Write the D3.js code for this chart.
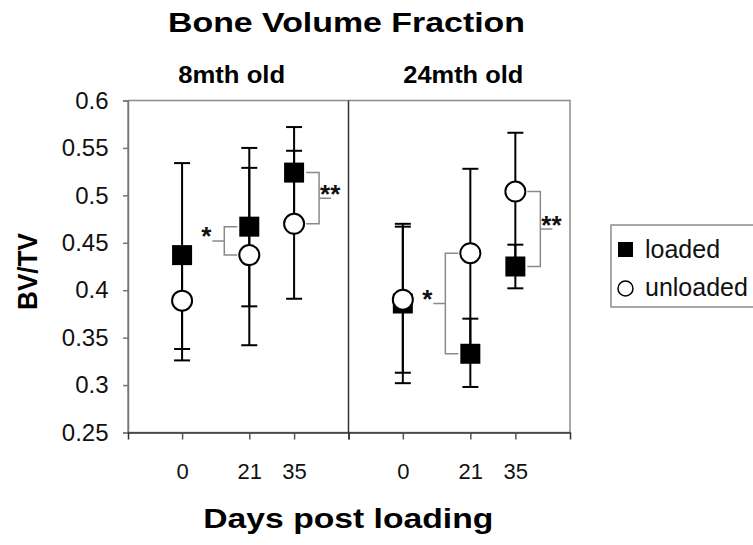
<!DOCTYPE html>
<html>
<head>
<meta charset="utf-8">
<script src="https://cdn.jsdelivr.net/npm/d3@7"></script>
<style>
  html, body { margin: 0; padding: 0; background: #fff; }
  svg { display: block; font-family: "Liberation Sans", Arial, sans-serif; }
</style>
</head>
<body>
<svg id="chart" width="753" height="545"></svg>
<script>
// Bone volume fraction (BV/TV) of loaded and unloaded limbs, two age groups
const ageGroups = ["8mth old", "24mth old"];
const days = [0, 21, 35];
const yTicks = [0.25, 0.3, 0.35, 0.4, 0.45, 0.5, 0.55, 0.6];

// one row per age group, one value per day
const loadedMean   = [[0.437, 0.467, 0.524], [0.386, 0.333, 0.425]];
const loadedLow    = [[0.338, 0.383, 0.476], [0.302, 0.298, 0.402]];
const loadedHigh   = [[0.534, 0.550, 0.572], [0.470, 0.370, 0.448]];
const unloadedMean = [[0.389, 0.437, 0.470], [0.390, 0.439, 0.504]];
const unloadedLow  = [[0.326, 0.342, 0.391], [0.313, 0.340, 0.432]];
const unloadedHigh = [[0.442, 0.529, 0.547], [0.467, 0.528, 0.566]];

// significance between loaded and unloaded
const sigGroup = [0, 0, 1, 1];
const sigDay   = [21, 35, 21, 35];
const sigLabel = ["*", "**", "*", "**"];
const sigSide  = [-1, 1, -1, 1];

const svg = d3.select("#chart");

const plotTop = 100.5, plotBottom = 432.5;
const panelEdges = [128, 348.5, 570];

const y = d3.scaleLinear().domain([0.25, 0.6]).range([plotBottom, plotTop]);
const xScales = ageGroups.map((g, i) =>
  d3.scaleLinear().domain([-16.9, 52]).range([panelEdges[i], panelEdges[i + 1]]));

// frame
svg.append("rect")
  .attr("x", panelEdges[0]).attr("y", plotTop)
  .attr("width", panelEdges[2] - panelEdges[0]).attr("height", plotBottom - plotTop)
  .attr("fill", "none").attr("stroke", "#8c8c8c").attr("stroke-width", 1.5);
svg.append("line")
  .attr("x1", panelEdges[1]).attr("x2", panelEdges[1])
  .attr("y1", plotTop).attr("y2", plotBottom)
  .attr("stroke", "#333").attr("stroke-width", 1.5);

// y axis
const yAxis = svg.append("g")
  .attr("transform", `translate(${panelEdges[0]},0)`)
  .call(d3.axisLeft(y).tickValues(yTicks).tickFormat(d => String(d))
    .tickSize(5).tickPadding(14.5));
yAxis.select(".domain").attr("stroke", "#777").attr("stroke-width", 1.5);
yAxis.selectAll(".tick line").attr("stroke", "#777").attr("stroke-width", 1.5);
yAxis.selectAll("text").attr("font-size", 24).attr("fill", "#111")
  .attr("font-family", "Liberation Sans, Arial, sans-serif");

// x axes
xScales.forEach((x, i) => {
  const g = svg.append("g")
    .attr("transform", `translate(0,${plotBottom})`)
    .call(d3.axisBottom(x).tickValues(days).tickSize(7).tickPadding(24));
  g.select(".domain").attr("stroke", "#333").attr("stroke-width", 1.5);
  g.selectAll(".tick line").attr("stroke", "#555").attr("stroke-width", 1.5);
  g.selectAll("text").attr("font-size", 22).attr("fill", "#111")
    .attr("font-family", "Liberation Sans, Arial, sans-serif");
});

// points per group
function seriesRows(mean, low, high) {
  const rows = [];
  ageGroups.forEach((g, gi) => days.forEach((d, di) => rows.push({
    gi, day: d, mean: mean[gi][di], low: low[gi][di], high: high[gi][di]
  })));
  return rows;
}
const loadedRows = seriesRows(loadedMean, loadedLow, loadedHigh);
const unloadedRows = seriesRows(unloadedMean, unloadedLow, unloadedHigh);

// error bars
const capHalf = 8;
function drawErrors(rows) {
  const g = svg.append("g").attr("stroke", "#000").attr("stroke-width", 2);
  rows.forEach(r => {
    const cx = xScales[r.gi](r.day);
    g.append("line").attr("x1", cx).attr("x2", cx)
      .attr("y1", y(r.low)).attr("y2", y(r.high));
    [r.low, r.high].forEach(v => g.append("line")
      .attr("x1", cx - capHalf).attr("x2", cx + capHalf)
      .attr("y1", y(v)).attr("y2", y(v)));
  });
}
drawErrors(unloadedRows);
drawErrors(loadedRows);

// markers
const sq = 20;
svg.append("g").selectAll("rect").data(loadedRows).join("rect")
  .attr("x", d => xScales[d.gi](d.day) - sq / 2)
  .attr("y", d => y(d.mean) - sq / 2)
  .attr("width", sq).attr("height", sq)
  .attr("fill", "#000");
svg.append("g").selectAll("circle").data(unloadedRows).join("circle")
  .attr("cx", d => xScales[d.gi](d.day))
  .attr("cy", d => y(d.mean))
  .attr("r", 10)
  .attr("fill", "#fff").attr("stroke", "#000").attr("stroke-width", 2);

// significance brackets
const brackets = svg.append("g");
sigGroup.forEach((gi, k) => {
  const di = days.indexOf(sigDay[k]);
  const cx = xScales[gi](sigDay[k]);
  const side = sigSide[k];
  const y1 = y(loadedMean[gi][di]);
  const y2 = y(unloadedMean[gi][di]);
  const xv = cx + side * 25;
  const xa = cx + side * 12;
  const xm = xv + side * 12;
  const ym = (y1 + y2) / 2;
  const path = d3.path();
  path.moveTo(xa, y1); path.lineTo(xv, y1); path.lineTo(xv, y2); path.lineTo(xa, y2);
  path.moveTo(xv, ym); path.lineTo(xm, ym);
  brackets.append("path").attr("d", path.toString())
    .attr("fill", "none").attr("stroke", "#8a8a8a").attr("stroke-width", 1.5);
  const label = brackets.append("text")
    .attr("font-size", 26).attr("font-weight", "bold").attr("fill", "#111")
    .attr("y", ym - 10 + 14.5)
    .text(sigLabel[k]);
  if (side < 0) label.attr("x", xm - 1).attr("text-anchor", "end");
  else label.attr("x", xv + 1).attr("text-anchor", "start");
});

// titles
svg.append("text").attr("x", 346.5).attr("y", 31.5)
  .attr("text-anchor", "middle").attr("font-size", 28).attr("font-weight", "bold")
  .attr("textLength", 357).attr("lengthAdjust", "spacingAndGlyphs")
  .text("Bone Volume Fraction");

const subX = [231.7, 463.3], subLen = [107, 120];
ageGroups.forEach((g, i) => {
  svg.append("text").attr("x", subX[i]).attr("y", 83)
    .attr("text-anchor", "middle").attr("font-size", 23).attr("font-weight", "bold")
    .attr("textLength", subLen[i]).attr("lengthAdjust", "spacingAndGlyphs")
    .text(g);
});

svg.append("text").attr("x", 348.3).attr("y", 527.5)
  .attr("text-anchor", "middle").attr("font-size", 28).attr("font-weight", "bold")
  .attr("textLength", 290).attr("lengthAdjust", "spacingAndGlyphs")
  .text("Days post loading");

svg.append("text")
  .attr("transform", "translate(36.7,271.5) rotate(-90)")
  .attr("text-anchor", "middle").attr("font-size", 28).attr("font-weight", "bold")
  .attr("textLength", 77).attr("lengthAdjust", "spacingAndGlyphs")
  .text("BV/TV");

// legend
const legend = svg.append("g");
legend.append("rect").attr("x", 611).attr("y", 225).attr("width", 160).attr("height", 82)
  .attr("fill", "#fff").attr("stroke", "#8c8c8c").attr("stroke-width", 1.5);
legend.append("rect").attr("x", 618).attr("y", 242).attr("width", 15).attr("height", 15)
  .attr("fill", "#000");
legend.append("circle").attr("cx", 625.5).attr("cy", 288.5).attr("r", 7.5)
  .attr("fill", "#fff").attr("stroke", "#000").attr("stroke-width", 1.5);
legend.append("text").attr("x", 645).attr("y", 258).attr("font-size", 25).attr("fill", "#111")
  .text("loaded");
legend.append("text").attr("x", 645).attr("y", 296).attr("font-size", 25).attr("fill", "#111")
  .text("unloaded");
</script>
</body>
</html>
